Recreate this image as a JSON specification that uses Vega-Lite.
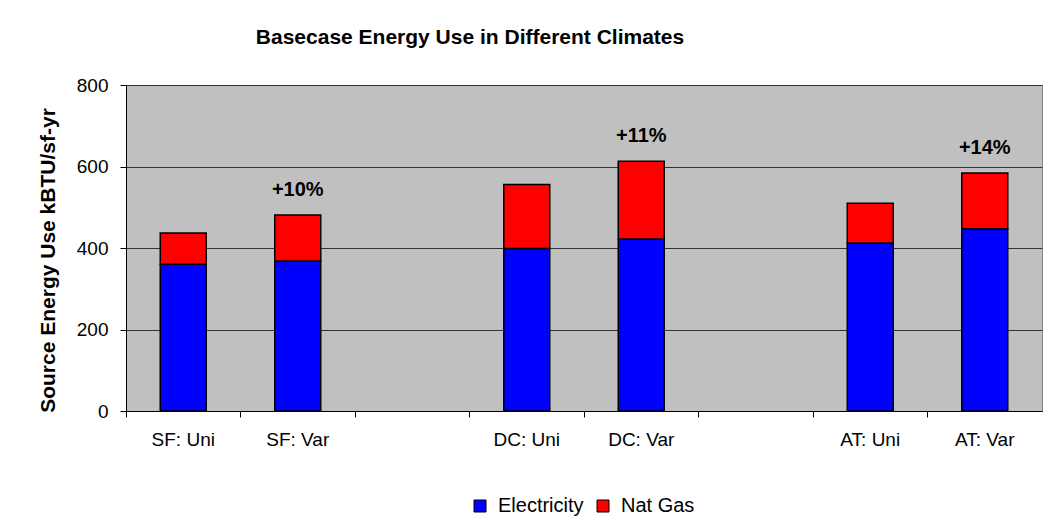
{
  "$schema": "https://vega.github.io/schema/vega-lite/v6.json",
  "autosize": "none",
  "width": 916,
  "height": 326,
  "padding": {"left": 126, "top": 85, "right": 7, "bottom": 118},
  "background": "white",
  "config": {
    "font": "Liberation Sans",
    "view": {"fill": "#C0C0C0", "stroke": "#808080", "strokeWidth": 1}
  },
  "title": {
    "text": "Basecase Energy Use in Different Climates",
    "fontSize": 21,
    "fontWeight": "bold",
    "font": "Liberation Sans",
    "color": "#000000",
    "anchor": "middle",
    "dx": -114,
    "offset": 28
  },
  "datasets": {
    "energy": [
      {"case": "SF: Uni", "source": "Electricity", "value": 360},
      {"case": "SF: Uni", "source": "Nat Gas", "value": 77},
      {"case": "SF: Var", "source": "Electricity", "value": 368},
      {"case": "SF: Var", "source": "Nat Gas", "value": 113},
      {"case": "DC: Uni", "source": "Electricity", "value": 399},
      {"case": "DC: Uni", "source": "Nat Gas", "value": 157},
      {"case": "DC: Var", "source": "Electricity", "value": 422},
      {"case": "DC: Var", "source": "Nat Gas", "value": 191},
      {"case": "AT: Uni", "source": "Electricity", "value": 412},
      {"case": "AT: Uni", "source": "Nat Gas", "value": 98},
      {"case": "AT: Var", "source": "Electricity", "value": 447},
      {"case": "AT: Var", "source": "Nat Gas", "value": 137}
    ],
    "labels": [
      {"case": "SF: Var", "total": 481, "label": "+10%"},
      {"case": "DC: Var", "total": 613, "label": "+11%"},
      {"case": "AT: Var", "total": 584, "label": "+14%"}
    ]
  },
  "encoding": {
    "x": {
      "field": "case",
      "type": "nominal",
      "scale": {
        "type": "band",
        "domain": ["SF: Uni", "SF: Var", " ", "DC: Uni", "DC: Var", "  ", "AT: Uni", "AT: Var"],
        "paddingInner": 0,
        "paddingOuter": 0
      },
      "axis": {
        "title": null,
        "labelAngle": 0,
        "bandPosition": 0,
        "domainColor": "#000000",
        "tickColor": "#000000",
        "tickSize": 6,
        "labelPadding": 13,
        "labelFontSize": 19,
        "labelColor": "#000000",
        "grid": false
      }
    }
  },
  "layer": [
    {
      "data": {"name": "energy"},
      "mark": {"type": "bar", "size": 46, "stroke": "#000000", "strokeWidth": 1.5},
      "encoding": {
        "y": {
          "field": "value",
          "type": "quantitative",
          "aggregate": "sum",
          "stack": "zero",
          "scale": {"domain": [0, 800]},
          "axis": {
            "title": "Source Energy Use kBTU/sf-yr",
            "titleFontSize": 21,
            "titleFontWeight": "bold",
            "titleColor": "#000000",
            "titlePadding": 18,
            "titleY": 175,
            "values": [0, 200, 400, 600, 800],
            "labelFontSize": 19,
            "labelColor": "#000000",
            "labelPadding": 12,
            "tickSize": 6,
            "tickColor": "#000000",
            "domainColor": "#000000",
            "gridColor": "#333333",
            "gridWidth": 1
          }
        },
        "color": {
          "field": "source",
          "type": "nominal",
          "scale": {"domain": ["Electricity", "Nat Gas"], "range": ["#0000FF", "#FF0000"]},
          "legend": {
            "title": null,
            "orient": "none",
            "direction": "horizontal",
            "legendX": 344,
            "legendY": 411,
            "symbolType": "square",
            "symbolSize": 144,
            "symbolStrokeColor": "#000000",
            "symbolStrokeWidth": 1,
            "labelFontSize": 20,
            "labelColor": "#000000",
            "labelOffset": 8,
            "columnPadding": 9
          }
        },
        "order": {"field": "source", "sort": "ascending"}
      }
    },
    {
      "data": {"name": "labels"},
      "mark": {"type": "text", "fontSize": 20, "fontWeight": "bold", "color": "#000000", "baseline": "alphabetic", "dy": -19},
      "encoding": {
        "y": {"field": "total", "type": "quantitative"},
        "text": {"field": "label", "type": "nominal"}
      }
    }
  ]
}
